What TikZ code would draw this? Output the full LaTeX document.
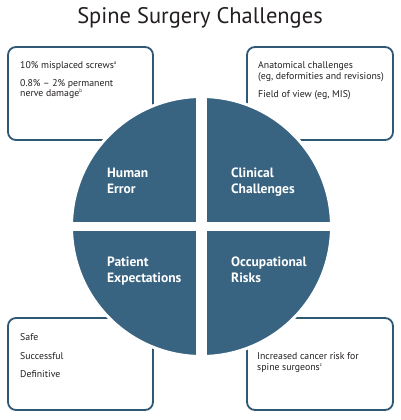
\documentclass[tikz,border=0pt]{standalone}
\usepackage{fontspec}
\setmainfont{PT Sans}
\definecolor{quadblue}{RGB}{56,99,129}
\definecolor{boxline}{RGB}{47,88,117}
\definecolor{txt}{RGB}{35,31,32}
\tikzset{
  infobox/.style={draw=boxline, line width=1.8pt, fill=white, rounded corners=8pt},
  boxtext/.style={inner sep=0pt, anchor=base west, text=txt, font=\fontsize{9.8}{11}\selectfont},
  quadtext/.style={inner sep=0pt, anchor=base west, text=white, font=\fontsize{13.5}{16}\selectfont\bfseries},
}
\begin{document}
\begin{tikzpicture}[x=1pt,y=-1pt]
\useasboundingbox (0,0) rectangle (400,420);
\fill[white] (0,0) rectangle (400,420);
% title
\node[inner sep=0pt, anchor=base, text=txt, font=\fontsize{22.5}{26}\selectfont] (title) at (200,23.5) {Spine Surgery Challenges};
% boxes
\draw[infobox] (8,47) rectangle (153,140) coordinate (tlbox);
\draw[infobox] (247,47) rectangle (393,140) coordinate (trbox);
\draw[infobox] (8,318) rectangle (153,410) coordinate (blbox);
\draw[infobox] (247,318) rectangle (393,410) coordinate (brbox);
% box texts
\node[boxtext] (t1) at (20,68) {10\% misplaced screws\textsuperscript{\tiny a}};
\node[boxtext] (t2a) at (20,86) {0.8\% -- 2\% permanent};
\node[boxtext] (t2b) at (20,96.5) {nerve damage\textsuperscript{\tiny b}};
\node[boxtext] (t3a) at (258,69) {Anatomical challenges};
\node[boxtext] (t3b) at (258,79.5) {(eg, deformities and revisions)};
\node[boxtext] (t4) at (258,97) {Field of view (eg, MIS)};
\node[boxtext] (t5) at (20,340.5) {Safe};
\node[boxtext] (t6) at (20,359) {Successful};
\node[boxtext] (t7) at (20,377) {Definitive};
\node[boxtext] (t8a) at (257,359.5) {Increased cancer risk for};
\node[boxtext] (t8b) at (257,370) {spine surgeons\textsuperscript{\tiny c}};
% circle
\coordinate (c) at (201.5,226.5);
\filldraw[fill=quadblue, draw=white, line width=3pt] (c) circle (130);
\fill[white] (196,95) rectangle (207,358);
\fill[white] (70,222) rectangle (333,231);
% quadrant labels
\node[quadtext] (q1a) at (107,177) {Human};
\node[quadtext] (q1b) at (107,193) {Error};
\node[quadtext] (q2a) at (231,177) {Clinical};
\node[quadtext] (q2b) at (231,193) {Challenges};
\node[quadtext] (q3a) at (107,266) {Patient};
\node[quadtext] (q3b) at (107,282) {Expectations};
\node[quadtext] (q4a) at (231,266) {Occupational};
\node[quadtext] (q4b) at (231,282) {Risks};
\end{tikzpicture}
\end{document}
